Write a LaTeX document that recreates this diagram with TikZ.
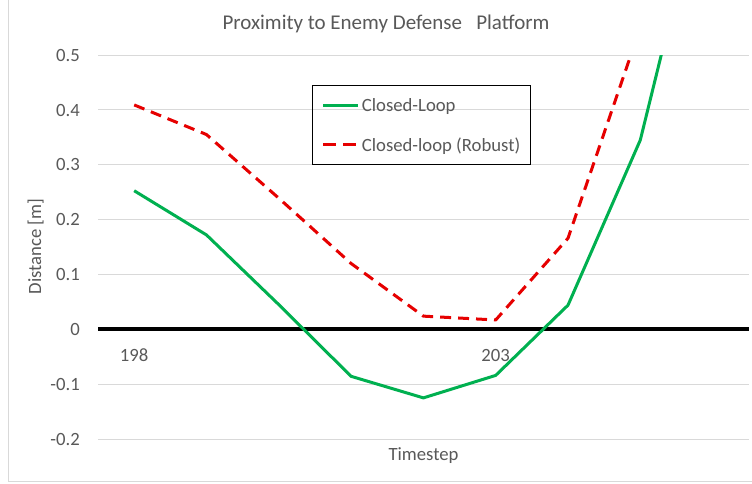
\documentclass[tikz,border=0pt]{standalone}
\usepackage{fontspec}
\setmainfont{Carlito}
\definecolor{txt}{HTML}{595959}
\definecolor{gridc}{HTML}{D9D9D9}
\definecolor{cgreen}{HTML}{00B050}
\definecolor{cred}{HTML}{E60000}
\begin{document}
\begin{tikzpicture}[x=1pt,y=-1pt,
  lbl/.style={text=txt,font=\fontsize{18.7pt}{20pt}\selectfont,inner sep=0pt},
  gridline/.style={draw=gridc,line width=1pt},
  greenline/.style={draw=cgreen,line width=3pt,line join=round},
  redline/.style={draw=cred,line width=3pt,dash pattern=on 11pt off 7pt,line join=round}]
\useasboundingbox (0,0) rectangle (752,483);
\fill[white] (0,0) rectangle (752,483);
% chart border
\draw[gridc,line width=1pt] (8,0) -- (8,481) -- (752,481);
% title
\node[text=txt,font=\fontsize{21pt}{24pt}\selectfont,inner sep=0pt,anchor=base] (title) at (386,29.3) {Proximity to Enemy Defense\ \ \ Platform};
% gridlines and tick labels
\foreach \yy/\lab [count=\i] in {55/0.5,109.9/0.4,164.7/0.3,219.6/0.2,274.4/0.1,329.3/0,384.2/-0.1,439.1/-0.2}{
  \draw[gridline] (98,\yy) -- (749,\yy);
  \node[lbl,anchor=base east] (ytick\i) at (80,\yy+6.2) {\lab};
}
% zero axis
\draw[line width=4pt,black] (98,329.3) -- (749,329.3);
% x labels
\node[lbl,anchor=base] (x198) at (134.2,361) {198};
\node[lbl,anchor=base] (x203) at (495.7,361) {203};
% axis titles
\node[lbl,anchor=base] (xtitle) at (423.5,460.3) {Timestep};
\node[lbl,anchor=base,rotate=90] (ytitle) at (41,246.7) {Distance [m]};
% data
\begin{scope}
\clip (98,55) rectangle (749,439.1);
\begin{scope}[shift={(134.2pt,-329.3pt)},x=72.3pt,y=548.6pt]
\draw[greenline] (0,0.2526) -- (1,0.172) -- (2,0.045) -- (3,-0.0857) -- (4,-0.125) -- (5,-0.084) -- (6,0.044) -- (7,0.345) -- (8,0.88);
\draw[redline] (0,0.409) -- (1,0.355) -- (2,0.239) -- (3,0.12) -- (4,0.024) -- (5,0.017) -- (6,0.166) -- (7,0.55) -- (8,0.95);
\end{scope}
\end{scope}
% legend
\node[draw=black,line width=1pt,minimum width=218pt,minimum height=78.3pt,inner sep=0pt] (legend) at (421.3,124.85) {};
\coordinate (g1) at (323,105);
\coordinate (g2) at (358,105);
\coordinate (r1) at (323,144.3);
\coordinate (r2) at (358,144.3);
\draw[greenline] (g1) -- (g2);
\draw[redline,dash pattern=on 13pt off 7pt] (r1) -- (r2);
\node[lbl,anchor=base west] (lg1) at (361.7,111.5) {Closed-Loop};
\node[lbl,anchor=base west] (lg2) at (361.7,151) {Closed-loop (Robust)};
\end{tikzpicture}
\end{document}
